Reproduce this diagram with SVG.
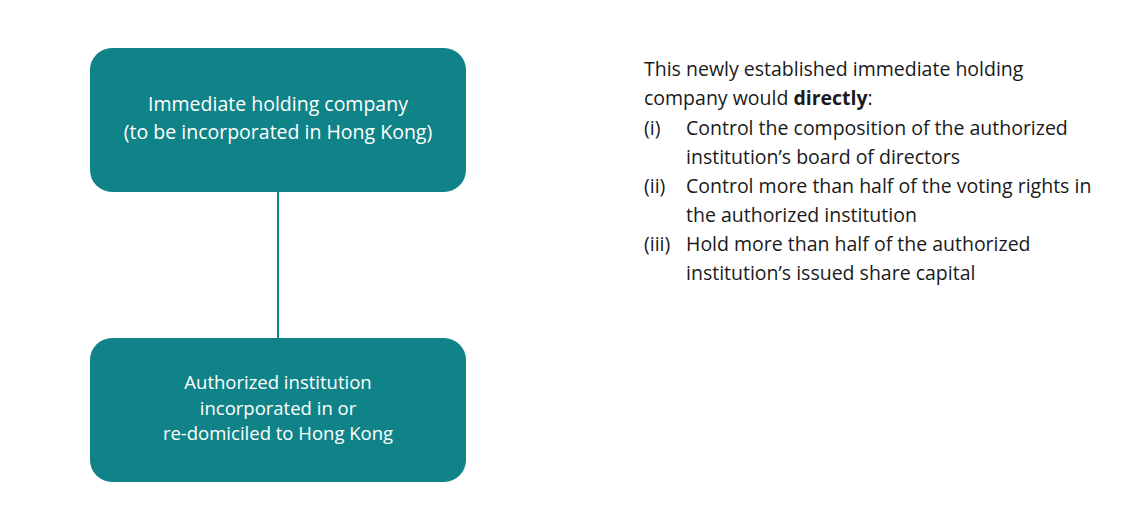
<svg xmlns="http://www.w3.org/2000/svg" width="1124" height="525" viewBox="0 0 1124 525">
<style>
.box{fill:#108388;}
.bt{font-family:"Open Sans","Liberation Sans",sans-serif;font-size:19.5px;fill:#ffffff;text-anchor:middle;}
.bt2{font-family:"Open Sans","Liberation Sans",sans-serif;font-size:18.5px;fill:#ffffff;text-anchor:middle;}
.rt{font-family:"Open Sans","Liberation Sans",sans-serif;font-size:19.5px;fill:#1a1a1a;}
.conn{stroke:#108388;stroke-width:2;fill:none;}
</style>
<rect width="1124" height="525" fill="#ffffff"/>
<g id="connectors">
<line class="conn" x1="278" y1="192" x2="278" y2="338"/>
</g>
<g id="node-holding">
<rect class="box" x="90" y="48" width="376" height="144" rx="22"/>
<text class="bt" x="278" y="111">Immediate holding company</text>
<text class="bt" x="278" y="139">(to be incorporated in Hong Kong)</text>
</g>
<g id="node-ai">
<rect class="box" x="90" y="338" width="376" height="144" rx="22"/>
<text class="bt2" x="278" y="389">Authorized institution</text>
<text class="bt2" x="278" y="414.5">incorporated in or</text>
<text class="bt2" x="278" y="440">re-domiciled to Hong Kong</text>
</g>
<g id="description">
<text class="rt" x="644" y="76">This newly established immediate holding</text>
<text class="rt" x="644" y="105">company would <tspan font-weight="bold">directly</tspan>:</text>
<text class="rt" x="644" y="135">(i)</text>
<text class="rt" x="686" y="135">Control the composition of the authorized</text>
<text class="rt" x="686" y="164">institution’s board of directors</text>
<text class="rt" x="644" y="193">(ii)</text>
<text class="rt" x="686" y="193">Control more than half of the voting rights in</text>
<text class="rt" x="686" y="222">the authorized institution</text>
<text class="rt" x="644" y="251">(iii)</text>
<text class="rt" x="686" y="251">Hold more than half of the authorized</text>
<text class="rt" x="686" y="280">institution’s issued share capital</text>
</g>
</svg>
